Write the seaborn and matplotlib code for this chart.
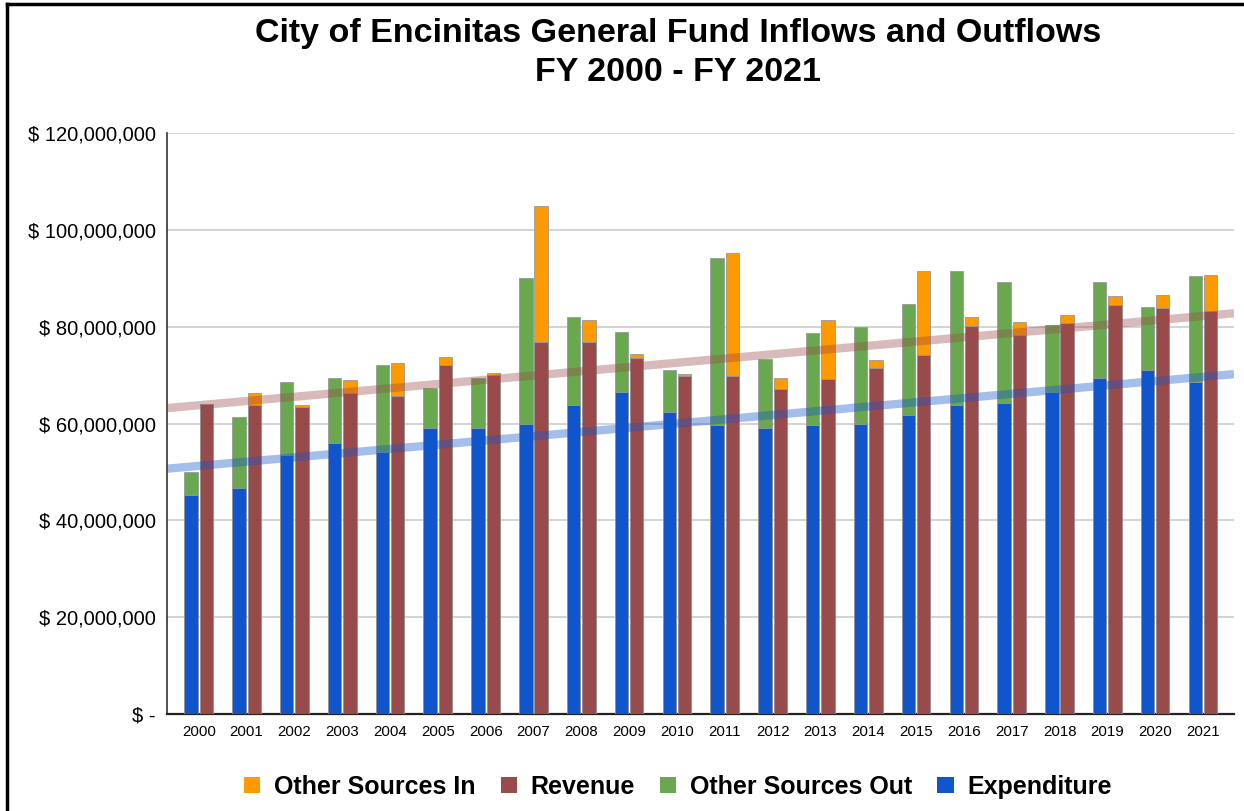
import numpy as np
import pandas as pd
import matplotlib
matplotlib.use("Agg")
import matplotlib.pyplot as plt
import seaborn as sns
from matplotlib.patches import Patch
from matplotlib.lines import Line2D
from matplotlib.ticker import FuncFormatter

# values, in millions of dollars
years = [str(y) for y in range(2000, 2022)]
expenditure = [45.2, 46.6, 53.4, 56.0, 54.2, 59.0, 59.0, 59.8, 63.9, 66.6, 62.3,
               59.6, 59.0, 59.6, 59.8, 61.8, 63.9, 64.3, 66.6, 69.5, 71.0, 68.6]
outflow_total = [49.9, 61.4, 68.5, 69.4, 72.0, 67.3, 69.3, 90.1, 81.9, 79.0, 71.0,
                 94.2, 73.4, 78.7, 79.9, 84.6, 91.6, 89.3, 80.4, 89.3, 84.0, 90.5]
revenue = [64.0, 63.9, 63.4, 66.4, 65.7, 72.1, 70.1, 76.8, 76.8, 73.6, 69.9,
           69.9, 67.2, 69.2, 71.5, 74.2, 80.1, 78.3, 80.8, 84.5, 83.9, 83.3]
inflow_total = [64.0, 66.4, 63.8, 69.0, 72.5, 73.7, 70.5, 104.9, 81.3, 74.3, 70.2,
                95.2, 69.3, 81.3, 73.1, 91.4, 81.9, 81.0, 82.5, 86.3, 86.6, 90.7]

other_out = [t - e for t, e in zip(outflow_total, expenditure)]
other_in = [t - r for t, r in zip(inflow_total, revenue)]

BLUE = "#1155cc"
GREEN = "#6aa84f"
RED = "#994a4a"
ORANGE = "#ff9900"

M = 1e6
df = pd.DataFrame({
    "Year": years * 2,
    "Side": ["Out"] * len(years) + ["In"] * len(years),
    "Total": [v * M for v in outflow_total + inflow_total],
    "Base": [v * M for v in expenditure + revenue],
})

plt.rcParams["font.family"] = ["Liberation Sans", "DejaVu Sans"]

fig = plt.figure(figsize=(12.44, 8.11), dpi=100)
ax = fig.add_axes([0.134, 0.1196, 0.858, 0.7164])

# top segment first (full stack height), then base series drawn over it
sns.barplot(data=df, x="Year", y="Total", hue="Side", hue_order=["Out", "In"],
            palette={"Out": GREEN, "In": ORANGE}, width=0.64, gap=0.125,
            saturation=1, edgecolor="#999999", linewidth=0.6, legend=False,
            ax=ax, zorder=2)
sns.barplot(data=df, x="Year", y="Base", hue="Side", hue_order=["Out", "In"],
            palette={"Out": BLUE, "In": RED}, width=0.64, gap=0.125,
            saturation=1, edgecolor="#999999", linewidth=0.6, legend=False,
            ax=ax, zorder=3)

# linear trendlines for revenue and expenditure
xpos = np.arange(len(years))
xl = (-0.67, len(years) - 1 + 0.65)
xs = np.array(xl)
for vals, col in [(revenue, RED), (expenditure, BLUE)]:
    k, b = np.polyfit(xpos, np.array(vals) * M, 1)
    ax.plot(xs, k * xs + b, color=col, alpha=0.38, lw=6, solid_capstyle="butt",
            zorder=4)

ax.set_xlim(*xl)
ax.set_ylim(0, 120e6)
ax.set_yticks(np.arange(0, 120e6 + 1, 20e6))
ax.yaxis.set_major_formatter(FuncFormatter(
    lambda v, p: "$ -" if v == 0 else "$ {:,.0f}".format(v)))
ax.set_xlabel("")
ax.set_ylabel("")
ax.grid(axis="y", color="#cccccc", lw=1.2, zorder=0)
ax.set_axisbelow(True)
for s in ["top", "right"]:
    ax.spines[s].set_visible(False)
ax.spines["left"].set_color("#333333")
ax.spines["left"].set_linewidth(1.2)
ax.spines["bottom"].set_color("#222222")
ax.spines["bottom"].set_linewidth(1.6)
ax.tick_params(axis="y", length=0, labelsize=14.5, pad=8)
ax.tick_params(axis="x", length=0, labelsize=10.8, pad=8)

fig.text(0.545, 0.959, "City of Encinitas General Fund Inflows and Outflows",
         ha="center", va="center", fontsize=24.5, fontweight="bold")
fig.text(0.545, 0.911, "FY 2000 - FY 2021", ha="center", va="center",
         fontsize=24.5, fontweight="bold")

handles = [Patch(facecolor=ORANGE, label="Other Sources In"),
           Patch(facecolor=RED, label="Revenue"),
           Patch(facecolor=GREEN, label="Other Sources Out"),
           Patch(facecolor=BLUE, label="Expenditure")]
leg = fig.legend(handles=handles, loc="center", bbox_to_anchor=(0.545, 0.03),
                 ncol=4, frameon=False, handlelength=0.65, handleheight=0.65,
                 handletextpad=0.55, columnspacing=1.0,
                 prop={"size": 18, "weight": "bold"})

# outer border (top and left edges visible in the reference)
fig.add_artist(Line2D([0.0056, 1.0], [0.995, 0.995], transform=fig.transFigure,
                      color="black", lw=2.5))
fig.add_artist(Line2D([0.0056, 0.0056], [0.0, 0.995], transform=fig.transFigure,
                      color="black", lw=2.5))

fig.savefig("out.png", dpi=100, facecolor="white")
